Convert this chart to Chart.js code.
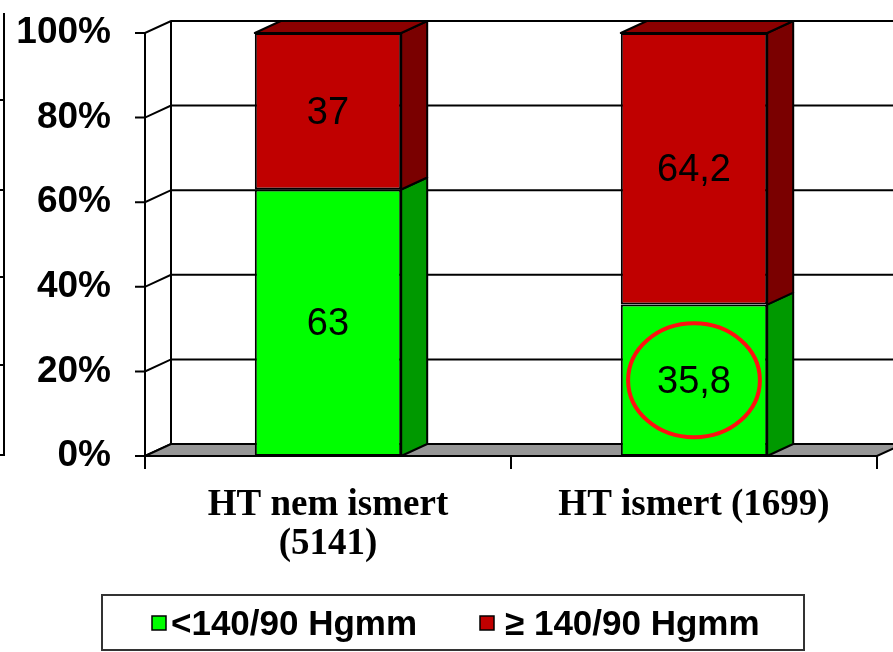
<!DOCTYPE html>
<html>
<head>
<meta charset="utf-8">
<script src="https://cdn.jsdelivr.net/npm/chart.js@4.4.0/dist/chart.umd.min.js"></script>
<style>
  html, body { margin: 0; padding: 0; background: #fff; }
</style>
</head>
<body>
<canvas id="bpChart" width="893" height="652"></canvas>
<script>
/* ======================================
   DATA
====================================== */
const categories = [["HT nem ismert", "(5141)"], "HT ismert (1699)"];
const below140 = [63, 35.8];
const above140 = [37, 64.2];
const seriesLabels = ["<140/90 Hgmm", "\u2265 140/90 Hgmm"];
const yMax = 100, yStep = 20;
// bar circled in red on the slide
const circled = { dataset: 0, index: 1 };

/* ======================================
   3D LOOK (depth of the box)
====================================== */
const DX = 26, DY = -12;
const sideColors = ["#009900", "#7a0000"];
const topColors = ["#00cc00", "#8c0000"];

const box3d = {
  id: "box3d",
  beforeDatasetsDraw(chart) {
    const { ctx, chartArea: a, scales: { y } } = chart;
    ctx.save();
    ctx.strokeStyle = "#000";
    ctx.lineWidth = 2;

    // stray frame of the neighbouring chart at the left edge
    ctx.beginPath();
    ctx.moveTo(4, 13); ctx.lineTo(4, 455); ctx.lineTo(0, 455);
    [100, 190, 277, 365].forEach(py => { ctx.moveTo(0, py); ctx.lineTo(4, py); });
    ctx.stroke();

    // tick marks, left wall diagonals, back wall gridlines
    y.ticks.forEach(t => {
      const py = y.getPixelForValue(t.value);
      ctx.beginPath();
      ctx.moveTo(a.left - 10, py);
      ctx.lineTo(a.left, py);
      ctx.lineTo(a.left + DX, py + DY);
      ctx.lineTo(chart.width, py + DY);
      ctx.stroke();
    });
    // back wall left edge
    ctx.beginPath();
    ctx.moveTo(a.left + DX, a.top + DY);
    ctx.lineTo(a.left + DX, a.bottom + DY);
    ctx.stroke();

    // floor
    ctx.beginPath();
    ctx.moveTo(a.left, a.bottom);
    ctx.lineTo(a.right, a.bottom);
    ctx.lineTo(a.right + DX, a.bottom + DY);
    ctx.lineTo(a.left + DX, a.bottom + DY);
    ctx.closePath();
    ctx.fillStyle = "#969696";
    ctx.fill();
    ctx.stroke();

    // front value axis
    ctx.beginPath();
    ctx.moveTo(a.left, a.top);
    ctx.lineTo(a.left, a.bottom + 12);
    ctx.stroke();

    // category ticks under the floor
    const n = chart.data.labels.length;
    const step = (a.right - a.left) / n;
    ctx.beginPath();
    for (let i = 0; i <= n; i++) {
      const px = a.left + i * step;
      ctx.moveTo(px, a.bottom);
      ctx.lineTo(px, a.bottom + 13);
    }
    ctx.stroke();
    ctx.restore();
  },
  afterDatasetsDraw(chart) {
    const { ctx } = chart;
    const last = chart.data.datasets.length - 1;
    ctx.save();
    ctx.strokeStyle = "#000";
    ctx.lineWidth = 2;
    ctx.lineJoin = "round";

    chart.data.datasets.forEach((ds, di) => {
      chart.getDatasetMeta(di).data.forEach(el => {
        const x1 = el.x - el.width / 2, x2 = el.x + el.width / 2;
        const top = Math.min(el.y, el.base), bot = Math.max(el.y, el.base);
        // right side
        ctx.beginPath();
        ctx.moveTo(x2, top);
        ctx.lineTo(x2 + DX, top + DY);
        ctx.lineTo(x2 + DX, bot + DY);
        ctx.lineTo(x2, bot);
        ctx.closePath();
        ctx.fillStyle = sideColors[di];
        ctx.fill();
        ctx.stroke();
        // top face only on the top segment
        if (di === last) {
          ctx.beginPath();
          ctx.moveTo(x1, top);
          ctx.lineTo(x2, top);
          ctx.lineTo(x2 + DX, top + DY);
          ctx.lineTo(x1 + DX, top + DY);
          ctx.closePath();
          ctx.fillStyle = topColors[di];
          ctx.fill();
          ctx.stroke();
        }
      });
    });

    // value labels
    ctx.fillStyle = "#000";
    ctx.font = "38px 'Liberation Sans', Arial, sans-serif";
    ctx.textAlign = "center";
    ctx.textBaseline = "middle";
    chart.data.datasets.forEach((ds, di) => {
      chart.getDatasetMeta(di).data.forEach((el, i) => {
        const txt = String(ds.data[i]).replace(".", ",");
        ctx.fillText(txt, el.x, (el.y + el.base) / 2 + 2);
      });
    });

    // red ring around the highlighted value
    const hl = chart.getDatasetMeta(circled.dataset).data[circled.index];
    ctx.beginPath();
    ctx.ellipse(hl.x, (hl.y + hl.base) / 2, hl.width * 0.45, 57, 0, 0, Math.PI * 2);
    ctx.strokeStyle = "#ff1010";
    ctx.lineWidth = 4;
    ctx.stroke();
    ctx.restore();
  },
  afterDraw(chart) {
    // boxed legend
    const { ctx } = chart;
    ctx.save();
    ctx.strokeStyle = "#333";
    ctx.lineWidth = 2;
    ctx.strokeRect(102, 595, 702, 55);
    const itemX = [152, 480];
    const textGap = [19, 25];
    ctx.font = "bold 35px 'Liberation Sans', Arial, sans-serif";
    ctx.textBaseline = "alphabetic";
    ctx.textAlign = "left";
    chart.data.datasets.forEach((ds, di) => {
      ctx.fillStyle = ds.backgroundColor;
      ctx.fillRect(itemX[di], 616, 14, 14);
      ctx.lineWidth = 1.5;
      ctx.strokeStyle = "#000";
      ctx.strokeRect(itemX[di], 616, 14, 14);
      ctx.fillStyle = "#000";
      ctx.fillText(ds.label, itemX[di] + textGap[di], 635);
    });
    ctx.restore();
  }
};

/* ======================================
   CHART
====================================== */
new Chart(document.getElementById("bpChart"), {
  type: "bar",
  data: {
    labels: categories,
    datasets: [
      { label: seriesLabels[0], data: below140, backgroundColor: "#00ff00" },
      { label: seriesLabels[1], data: above140, backgroundColor: "#c00000" }
    ]
  },
  plugins: [box3d],
  options: {
    responsive: false,
    animation: false,
    datasets: {
      bar: {
        barPercentage: 0.4,
        categoryPercentage: 1,
        borderColor: "#000",
        borderWidth: 2,
        borderSkipped: false
      }
    },
    layout: { padding: { top: 33, right: 16, bottom: 0, left: 0 } },
    plugins: { legend: { display: false }, tooltip: { enabled: false } },
    scales: {
      x: {
        stacked: true,
        grid: { display: false, drawTicks: false },
        border: { display: false },
        ticks: {
          color: "#000",
          maxRotation: 0,
          autoSkip: false,
          padding: 30,
          font: { family: "'Liberation Serif', 'Times New Roman', serif", size: 37, weight: "bold", lineHeight: 1.05 }
        },
        afterFit(s) { s.height = 196; s.paddingLeft = 0; s.paddingRight = 0; }
      },
      y: {
        stacked: true,
        min: 0,
        max: yMax,
        grid: { display: false, drawTicks: false },
        border: { display: false },
        ticks: {
          stepSize: yStep,
          color: "#000",
          padding: 34,
          callback: v => v + "%",
          font: { family: "'Liberation Sans', Arial, sans-serif", size: 37, weight: "bold" }
        },
        afterFit(s) { s.width = 145; s.paddingTop = 0; s.paddingBottom = 0; }
      }
    }
  }
});
</script>
</body>
</html>
